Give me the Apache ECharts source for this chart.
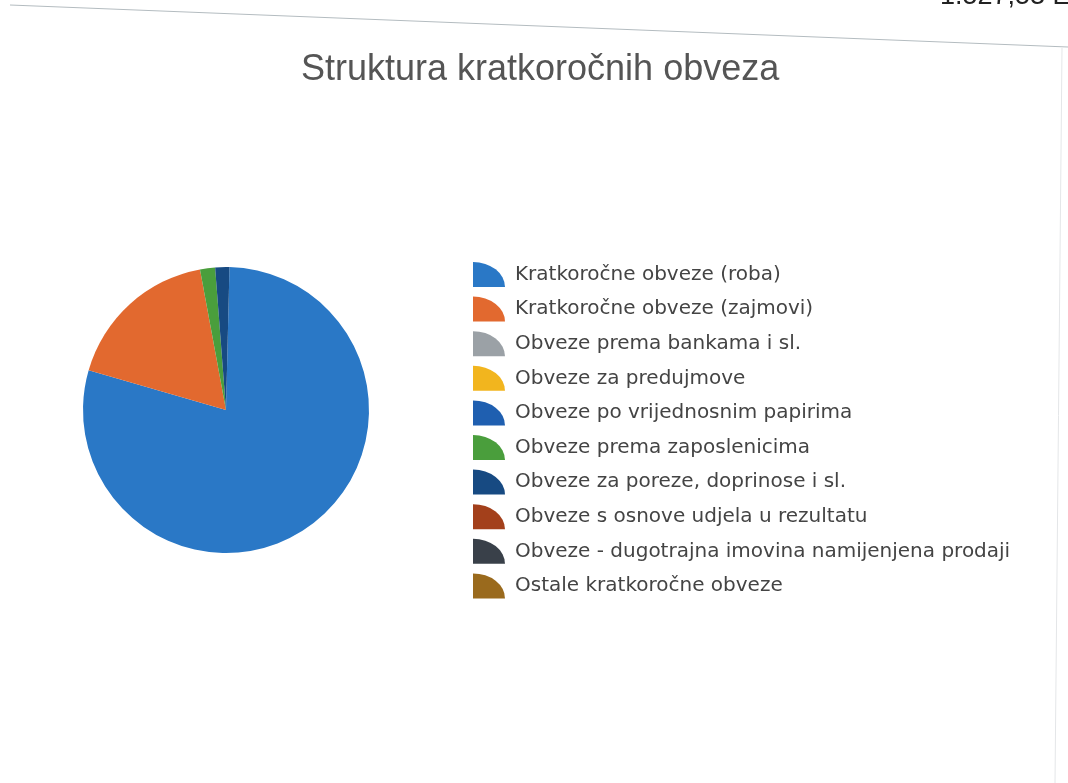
<!DOCTYPE html>
<html lang="hr">
<head>
    <meta charset="UTF-8">
    <title>Struktura kratkoročnih obveza</title>
    <script src="https://cdn.jsdelivr.net/npm/echarts@6/dist/echarts.min.js"></script>
    <style>
        html, body { margin: 0; padding: 0; background: #fff; }
    </style>
</head>
<body>
<div id="chart" style="width:1068px;height:783px;"></div>
<script>
    // kategorije i udjeli (%) ocitani sa slike
    var categories = [
        'Kratkoročne obveze (roba)',
        'Kratkoročne obveze (zajmovi)',
        'Obveze prema bankama i sl.',
        'Obveze za predujmove',
        'Obveze po vrijednosnim papirima',
        'Obveze prema zaposlenicima',
        'Obveze za poreze, doprinose i sl.',
        'Obveze s osnove udjela u rezultatu',
        'Obveze - dugotrajna imovina namijenjena prodaji',
        'Ostale kratkoročne obveze'
    ];
    var shares = [79.1, 17.6, 0, 0, 0, 1.7, 1.6, 0, 0, 0];
    var colors = ['#2a78c6', '#e2692f', '#9ba1a6', '#f2b51e', '#1f5fb0',
                  '#4a9e3c', '#174a82', '#a3401b', '#394049', '#9a6a1d'];

    var data = [];
    for (var i = 0; i < categories.length; i++) {
        data.push({ name: categories[i], value: shares[i] });
    }

    // ikona legende - cetvrtina kruga (sira nego visa)
    var wedge = 'path://M0,25 L0,0 A32,25 0 0 1 32,25 Z';

    var chart = echarts.init(document.getElementById('chart'));
    chart.setOption({
        animation: false,
        color: colors,
        title: {
            text: 'Struktura kratkoročnih obveza',
            left: 296,
            top: 47,
            textStyle: {
                fontFamily: 'Liberation Sans, Arial, sans-serif',
                fontSize: 36,
                fontWeight: 'normal',
                color: '#555'
            }
        },
        legend: {
            orient: 'vertical',
            left: 468,
            top: 257,
            icon: wedge,
            itemWidth: 32,
            itemHeight: 25,
            itemGap: 9.6,
            selectedMode: false,
            textStyle: {
                fontFamily: 'DejaVu Sans, sans-serif',
                fontSize: 20,
                color: '#444',
                padding: [0, 0, 0, 5]
            },
            data: categories
        },
        graphic: [
            {   // linija iznad grafikona (dio skeniranog dokumenta)
                type: 'line',
                shape: { x1: 10, y1: 5, x2: 1068, y2: 47 },
                style: { stroke: '#b4bcc0', lineWidth: 1.2 }
            },
            {
                type: 'line',
                shape: { x1: 1062, y1: 48, x2: 1055, y2: 783 },
                style: { stroke: '#e4e6e8', lineWidth: 1 }
            },
            {
                type: 'text',
                left: 940,
                top: -17,
                style: {
                    text: '1.527,53 EUR',
                    fontFamily: 'Liberation Sans, Arial, sans-serif',
                    fontSize: 27,
                    fill: '#222'
                }
            }
        ],
        series: [{
            type: 'pie',
            center: [226, 410],
            radius: 143,
            startAngle: 88.6,
            clockwise: true,
            minAngle: 0,
            stillShowZeroSum: false,
            label: { show: false },
            labelLine: { show: false },
            itemStyle: { borderWidth: 0 },
            emphasis: { disabled: true },
            data: data
        }]
    });
</script>
</body>
</html>
